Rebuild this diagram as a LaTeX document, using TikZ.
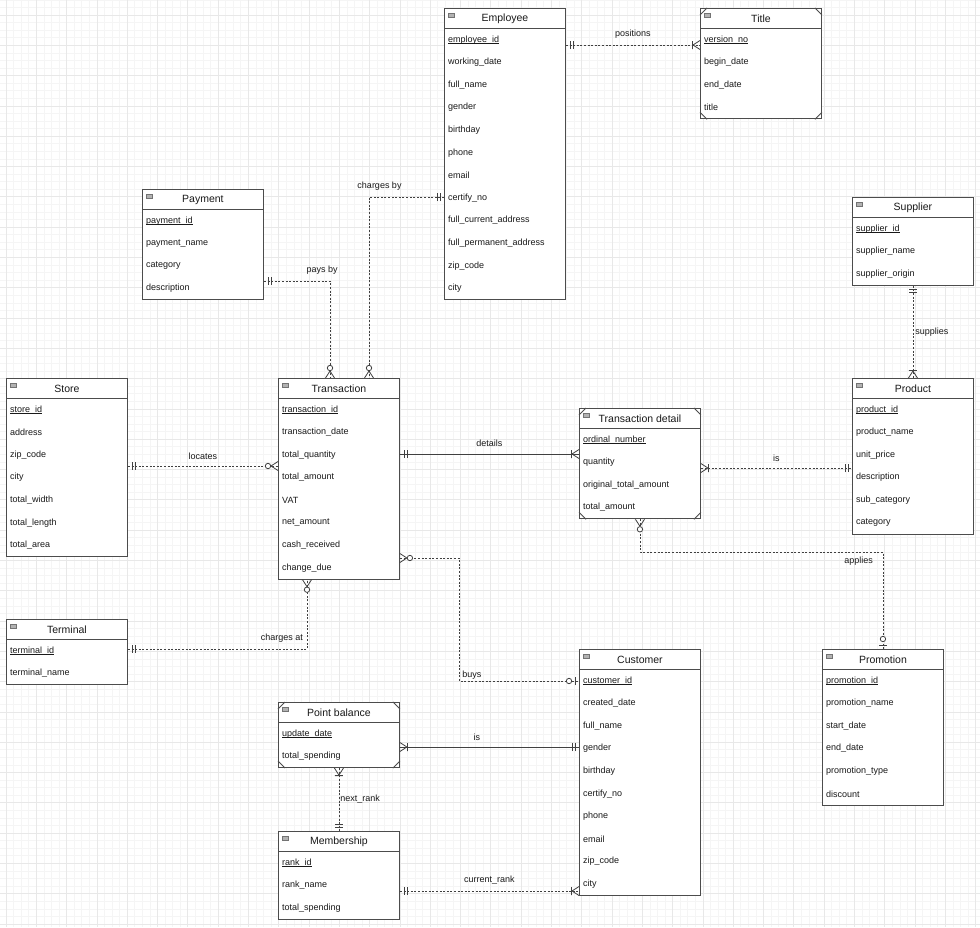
\documentclass[tikz,border=0pt]{standalone}
\usepackage{fontspec}
\setmainfont{Liberation Sans}
\usetikzlibrary{positioning,calc}
\def\rowh{22.6}
\def\boxw{121pt}
\tikzstyle{entbox} = [draw=black!70, fill=white, line width=0.9pt, minimum width=\boxw, inner sep=0pt, anchor=north west]
\tikzstyle{entline} = [draw=black!70, line width=0.9pt]
\tikzstyle{enttitle} = [font=\fontsize{10.5}{12}\selectfont, text=black!90, inner sep=0pt]
\tikzstyle{entattr} = [font=\fontsize{9}{11}\selectfont, text=black!90, inner sep=0pt, anchor=west]
\tikzstyle{enticon} = [fill=black!30, draw=black!55, line width=0.4pt]
\tikzstyle{relline} = [draw=black!75, line width=0.8pt, dash pattern=on 2pt off 1.6pt]
\tikzstyle{relsolid} = [draw=black!75, line width=0.8pt]
\tikzstyle{rellabel} = [font=\fontsize{9}{11}\selectfont, text=black!90, inner sep=0pt]
\tikzstyle{relmark} = [draw=black!75, line width=0.8pt, solid]
\tikzstyle{gridminor} = [draw=black!4, line width=0.7pt]
\tikzstyle{gridmajor} = [draw=black!9, line width=0.7pt]
\tikzset{
  erone/.pic={\draw[relmark] (4,-4) -- (4,4) (7,-4) -- (7,4);},
  eronemany/.pic={\draw[relmark] (0,-4.5) -- (7,0) -- (0,4.5) (7.5,-4) -- (7.5,4);},
  erzeromany/.pic={\draw[relmark] (0,-4.5) -- (7,0) -- (0,4.5);
    \draw[relmark, fill=white] (10,0) circle (2.7pt);},
  erzeroone/.pic={\draw[relmark] (4,-4) -- (4,4);
    \draw[relmark, fill=white] (10,0) circle (2.7pt);}
}
% key attribute, underline close to the baseline
\newcommand{\erkey}[1]{\underline{\raisebox{0pt}[\height][0pt]{#1}}}
% name, x, y, rows, title, key, other attributes
\newcommand{\erentity}[7]{%
  \node[entbox, minimum height={20+#4*\rowh}] (#1) at (#2,#3) {};
  \draw[entline] ([yshift=-20pt]#1.north west) -- ([yshift=-20pt]#1.north east);
  \draw[enticon] (#2+4,#3+5) rectangle (#2+10,#3+9);
  \node[enttitle] (#1-t) at ([yshift=-11pt]#1.north) {#5};
  \node[entattr] (#1-1) at (#2+4,{#3+20.5+0.5*\rowh}) {\erkey{#6}};
  \foreach \a [count=\i from 2] in {#7}
    {\node[entattr] (#1-\i) at (#2+4,{#3+20.5+(\i-0.5)*\rowh}) {\a};}
}
% cut corners
\newcommand{\erweak}[1]{%
  \draw[entline] ([yshift=-7pt]#1.north west) -- ([xshift=7pt]#1.north west);
  \draw[entline] ([xshift=-7pt]#1.north east) -- ([yshift=-7pt]#1.north east);
  \draw[entline] ([yshift=7pt]#1.south west) -- ([xshift=7pt]#1.south west);
  \draw[entline] ([xshift=-7pt]#1.south east) -- ([yshift=7pt]#1.south east);
}

\begin{document}
\begin{tikzpicture}[x=1pt,y=-1pt]
  \useasboundingbox (0,0) rectangle (980,927);
  \fill[white] (0,0) rectangle (980,927);
  % grid
  \foreach \k in {-1,...,128} \draw[gridminor] ({6+\k*7.575},0) -- ({6+\k*7.575},927);
  \foreach \k in {-2,...,120} \draw[gridminor] (0,{15+\k*7.575}) -- (980,{15+\k*7.575});
  \foreach \k in {0,...,32} \draw[gridmajor] ({6+\k*30.3},0) -- ({6+\k*30.3},927);
  \foreach \k in {0,...,30} \draw[gridmajor] (0,{15+\k*30.3}) -- (980,{15+\k*30.3});

  % entities
  \erentity{employee}{444}{8}{12}{Employee}{employee\_id}{working\_date, full\_name, gender, birthday, phone, email, certify\_no, full\_current\_address, full\_permanent\_address, zip\_code, city}
  \erentity{title}{700}{8}{4}{Title}{version\_no}{begin\_date, end\_date, title}
  \erentity{payment}{142}{189}{4}{Payment}{payment\_id}{payment\_name, category, description}
  \erentity{supplier}{852}{197}{3}{Supplier}{supplier\_id}{supplier\_name, supplier\_origin}
  \erentity{store}{6}{378}{7}{Store}{store\_id}{address, zip\_code, city, total\_width, total\_length, total\_area}
  \erentity{transaction}{278}{378}{8}{Transaction}{transaction\_id}{transaction\_date, total\_quantity, total\_amount, VAT, net\_amount, cash\_received, change\_due}
  \erentity{tdetail}{579}{408}{4}{Transaction detail}{ordinal\_number}{quantity, original\_total\_amount, total\_amount}
  \erentity{product}{852}{378}{6}{Product}{product\_id}{product\_name, unit\_price, description, sub\_category, category}
  \erentity{terminal}{6}{619}{2}{Terminal}{terminal\_id}{terminal\_name}
  \erentity{customer}{579}{649}{10}{Customer}{customer\_id}{created\_date, full\_name, gender, birthday, certify\_no, phone, email, zip\_code, city}
  \erentity{promotion}{822}{649}{6}{Promotion}{promotion\_id}{promotion\_name, start\_date, end\_date, promotion\_type, discount}
  \erentity{pointbal}{278}{702}{2}{Point balance}{update\_date}{total\_spending}
  \erentity{membership}{278}{831}{3}{Membership}{rank\_id}{rank\_name, total\_spending}
  \erweak{title}
  \erweak{tdetail}
  \erweak{pointbal}

  % relations
  \draw[relline] (employee.east |- 0,45) -- node[rellabel, above=6pt] {positions} (title.west |- 0,45);
  \pic at (employee.east |- 0,45) {erone};
  \pic[rotate=180] at (title.west |- 0,45) {eronemany};

  \draw[relline] (employee.west |- 0,197) -| node[rellabel, pos=0.43, above=6pt] {charges by} (transaction.north -| 369,0);
  \pic[rotate=180] at (employee.west |- 0,197) {erone};
  \pic[rotate=90] at (transaction.north -| 369,0) {erzeromany};

  \draw[relline] (payment.east |- 0,281) -| node[rellabel, pos=0.44, above=6pt] {pays by} (transaction.north -| 330,0);
  \pic at (payment.east |- 0,281) {erone};
  \pic[rotate=90] at (transaction.north -| 330,0) {erzeromany};

  \draw[relline] (store.east |- 0,466) -- node[rellabel, above=6pt] {locates} (transaction.west |- 0,466);
  \pic at (store.east |- 0,466) {erone};
  \pic[rotate=180] at (transaction.west |- 0,466) {erzeromany};

  \draw[relsolid] (transaction.east |- 0,454) -- node[rellabel, above=7pt] {details} (tdetail.west |- 0,454);
  \pic at (transaction.east |- 0,454) {erone};
  \pic[rotate=180] at (tdetail.west |- 0,454) {eronemany};

  \draw[relline] (tdetail.east |- 0,468) -- node[rellabel, above=6pt] {is} (product.west |- 0,468);
  \pic at (tdetail.east |- 0,468) {eronemany};
  \pic[rotate=180] at (product.west |- 0,468) {erone};

  \draw[relline] (tdetail.south) -- (tdetail.south |- 0,552) -| node[rellabel, pos=0.45, below=5pt] {applies} (promotion.north);
  \pic[rotate=-90] at (tdetail.south) {erzeromany};
  \pic[rotate=90] at (promotion.north) {erzeroone};

  \draw[relline] (supplier.south) -- node[rellabel, right=2pt] {supplies} (product.north);
  \pic[rotate=-90] at (supplier.south) {erone};
  \pic[rotate=90] at (product.north) {eronemany};

  \draw[relline] (transaction.east |- 0,558) -| (459,620) |- node[rellabel, pos=0.45, right=3pt] {buys} (customer.west |- 0,681);
  \pic at (transaction.east |- 0,558) {erzeromany};
  \pic[rotate=180] at (customer.west |- 0,681) {erzeroone};

  \draw[relline] (terminal.east |- 0,649) -| node[rellabel, pos=0.43, above=6pt] {charges at} (transaction.south -| 307,0);
  \pic at (terminal.east |- 0,649) {erone};
  \pic[rotate=-90] at (transaction.south -| 307,0) {erzeromany};

  \draw[relsolid] (pointbal.east |- 0,747) -- node[rellabel, pos=0.43, above=6pt] {is} (customer.west |- 0,747);
  \pic at (pointbal.east |- 0,747) {eronemany};
  \pic[rotate=180] at (customer.west |- 0,747) {erone};

  \draw[relline] (pointbal.south) -- node[rellabel, right=1pt] {next\_rank} (membership.north);
  \pic[rotate=-90] at (pointbal.south) {eronemany};
  \pic[rotate=90] at (membership.north) {erone};

  \draw[relline] (membership.east |- 0,891) -- node[rellabel, above=6pt] {current\_rank} (customer.west |- 0,891);
  \pic at (membership.east |- 0,891) {erone};
  \pic[rotate=180] at (customer.west |- 0,891) {eronemany};
\end{tikzpicture}
\end{document}
